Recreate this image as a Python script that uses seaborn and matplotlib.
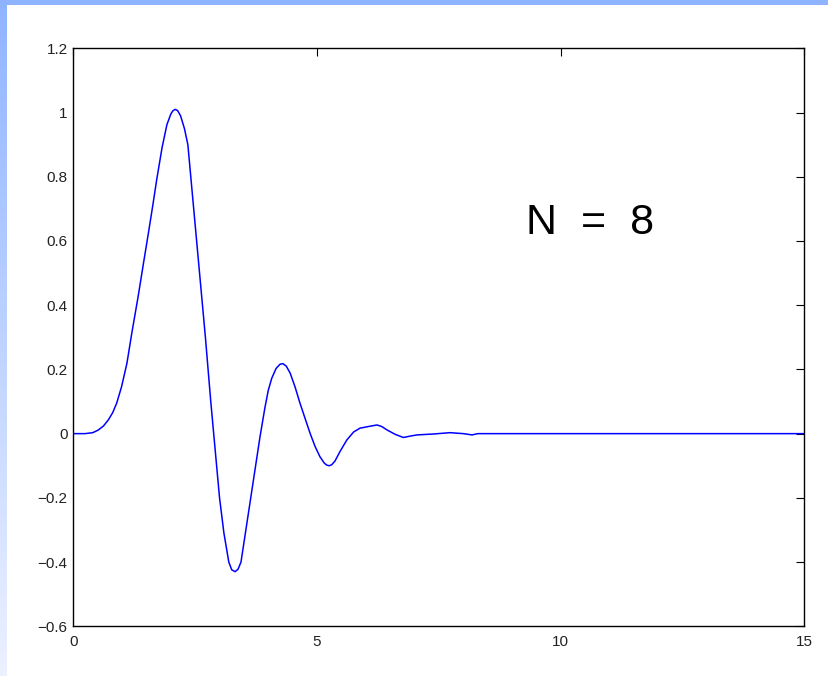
import numpy as np
import matplotlib
matplotlib.use("Agg")
import matplotlib.pyplot as plt
import seaborn as sns

# curve (x, y)
t = [0.0, 0.24, 0.40, 0.51, 0.62, 0.72, 0.81, 0.89, 0.99, 1.10, 1.20, 1.33, 1.44, 1.54,
     1.63, 1.71, 1.82, 1.92, 2.00, 2.04, 2.09, 2.14, 2.20, 2.28, 2.35, 2.41, 2.47, 2.53,
     2.59, 2.65, 2.71, 2.765, 2.82, 2.88, 2.94, 3.00, 3.09, 3.19, 3.25, 3.32, 3.38, 3.44,
     3.54, 3.64, 3.73, 3.83, 3.93, 4.00, 4.07, 4.16, 4.24, 4.30, 4.37, 4.45, 4.55, 4.65,
     4.76, 4.86, 4.96, 5.06, 5.15, 5.20, 5.25, 5.30, 5.37, 5.47, 5.61, 5.75, 5.88, 6.05,
     6.23, 6.33, 6.43, 6.60, 6.77, 6.90, 7.05, 7.40, 7.73, 8.00, 8.18, 8.30, 15.0]
amp = [0.0, 0.0, 0.003, 0.011, 0.024, 0.043, 0.066, 0.095, 0.146, 0.219, 0.313, 0.427, 0.531, 0.624,
       0.71, 0.79, 0.89, 0.962, 0.995, 1.005, 1.01, 1.006, 0.99, 0.95, 0.90, 0.80, 0.70, 0.60,
       0.50, 0.40, 0.30, 0.20, 0.10, 0.0, -0.10, -0.20, -0.31, -0.40, -0.424, -0.43, -0.422, -0.40,
       -0.30, -0.20, -0.11, -0.01, 0.08, 0.135, 0.172, 0.203, 0.216, 0.218, 0.21, 0.188, 0.145, 0.095,
       0.045, 0.0, -0.04, -0.072, -0.092, -0.098, -0.10, -0.097, -0.085, -0.056, -0.02, 0.005, 0.017, 0.022,
       0.027, 0.022, 0.012, -0.002, -0.012, -0.008, -0.004, -0.001, 0.003, 0.0, -0.004, 0.0, 0.0]

xticks = [0, 5, 10, 15]
yticks = [-0.6, -0.4, -0.2, 0, 0.2, 0.4, 0.6, 0.8, 1, 1.2]
ytick_labels = ["\u22120.6", "\u22120.4", "\u22120.2", "0", "0.2", "0.4", "0.6", "0.8", "1", "1.2"]

sns.set_style("white")
plt.rcParams["font.family"] = ["Liberation Sans", "DejaVu Sans"]

fig = plt.figure(figsize=(8.29, 6.76), dpi=100)
fig.patch.set_facecolor("white")

# slide frame: blue top strip and fading left strip
band = fig.add_axes([0, 0, 7 / 829, 1])
grad = np.linspace(0, 1, 256).reshape(-1, 1)
top_c = np.array([143, 180, 255]) / 255
bot_c = np.array([236, 241, 255]) / 255
img = top_c[None, None, :] * (1 - grad[:, :, None]) + bot_c[None, None, :] * grad[:, :, None]
band.imshow(img, aspect="auto", extent=[0, 1, 0, 1])
band.axis("off")
top = fig.add_axes([0, 1 - 5 / 676, 1, 5 / 676])
top.set_facecolor((143 / 255, 180 / 255, 255 / 255))
top.set_xticks([])
top.set_yticks([])
for s in top.spines.values():
    s.set_visible(False)

ax = fig.add_axes([73.3 / 829, (676 - 626.3) / 676, (804.5 - 73.3) / 829, (626.3 - 48.3) / 676])
sns.lineplot(x=t, y=amp, ax=ax, color="#0000ff", linewidth=1.1, sort=False, estimator=None)

ax.set_xlim(0, 15)
ax.set_ylim(-0.6, 1.2)
ax.set_xticks(xticks)
ax.set_yticks(yticks)
ax.set_yticklabels(ytick_labels)
ax.tick_params(direction="in", length=6, width=0.8, colors="black", labelcolor="#222222",
               labelsize=11, top=True, right=True)
ax.tick_params(axis="x", pad=6)
ax.tick_params(axis="y", pad=4)
for s in ax.spines.values():
    s.set_color("black")
    s.set_linewidth(1.0)
    s.set_visible(True)

ax.text(9.29, 0.656, "N  =  8", fontsize=31, va="center", ha="left", color="black")

fig.savefig("out.png", dpi=100)
